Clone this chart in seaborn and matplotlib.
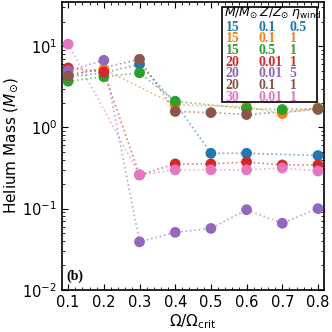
import matplotlib
matplotlib.use("Agg")
import matplotlib.pyplot as plt
import matplotlib.patches as mpatches
from matplotlib.ticker import MultipleLocator
import numpy as np
import pandas as pd
import seaborn as sns

# Omega / Omega_crit grid
omega = [0.1, 0.2, 0.3, 0.4, 0.5, 0.6, 0.7, 0.8]

# helium mass per model (None = no model at that rotation)
he_15_01_05 = [4.2, 4.7, 6.0, 2.0, 0.48, 0.48, None, 0.45]
he_15_01_1 = [4.5, 5.2, None, 1.9, None, 1.8, 1.48, 1.75]
he_15_05_1 = [3.7, 4.2, 4.7, 2.1, None, 1.7, 1.66, 1.7]
he_20_001_1 = [5.4, 4.8, 0.26, 0.355, 0.355, 0.375, 0.345, 0.345]
he_20_001_5 = [5.0, 6.7, 0.039, 0.051, 0.057, 0.097, 0.066, 0.10]
he_20_01_1 = [4.3, None, 6.9, 1.57, 1.52, 1.44, None, 1.66]
he_30_001_1 = [10.6, None, 0.26, 0.30, 0.30, 0.30, 0.316, 0.29]

mass_labels = ["15", "15", "15", "20", "20", "20", "30"]
z_labels = ["0.1", "0.1", "0.5", "0.01", "0.01", "0.1", "0.01"]
eta_labels = ["0.5", "1", "1", "1", "5", "1", "1"]

series = [he_15_01_05, he_15_01_1, he_15_05_1, he_20_001_1,
          he_20_001_5, he_20_01_1, he_30_001_1]

rows = []
for i, vals in enumerate(series):
    for om, v in zip(omega, vals):
        if v is not None:
            rows.append({"model": i, "omega": om, "mhe": v})
df = pd.DataFrame(rows)

colors = sns.color_palette("tab10", 7)

fig = plt.figure(figsize=(3.32, 3.32), dpi=100)
ax = fig.add_axes([0.187, 0.127, 0.789, 0.867])

sns.lineplot(data=df, x="omega", y="mhe", hue="model", palette=colors,
             linestyle=":", linewidth=1.2, alpha=0.6, legend=False, ax=ax,
             estimator=None, sort=True)
sns.scatterplot(data=df, x="omega", y="mhe", hue="model", palette=colors,
                s=60, linewidth=0, legend=False, ax=ax, zorder=3)

ax.set_yscale("log")
ax.set_xlim(0.083, 0.817)
ax.set_ylim(0.01, 35)
ax.xaxis.set_major_locator(MultipleLocator(0.1))
ax.xaxis.set_minor_locator(MultipleLocator(0.02))
ax.tick_params(which="both", direction="in", top=True, right=True,
               labelsize=10.5)
ax.tick_params(which="major", length=4)
ax.tick_params(which="minor", length=2)
for sp in ax.spines.values():
    sp.set_linewidth(1.2)

ax.set_xlabel(r"$\Omega/\Omega_{\rm crit}$", fontsize=11, labelpad=2)
ax.set_ylabel(r"Helium Mass ($M_{\odot}$)", fontsize=11, labelpad=2)

# table-style legend
box = mpatches.Rectangle((0.611, 0.652), 0.362, 0.331, transform=ax.transAxes,
                         facecolor="white", edgecolor="black", linewidth=1.2,
                         zorder=4)
ax.add_patch(box)
cols_x = [0.624, 0.75, 0.868]
ax.text(0.618, 0.963, r"$M/M_{\odot}\,Z/Z_{\odot}\;\eta_{\rm wind}$",
        transform=ax.transAxes, fontsize=9, va="center", zorder=5)
for i in range(7):
    y = 0.912 - i * 0.0405
    for cx, txt in zip(cols_x, [mass_labels[i], z_labels[i], eta_labels[i]]):
        ax.text(cx, y, txt, transform=ax.transAxes, color=colors[i],
                fontsize=10, fontweight="bold", family="Liberation Serif",
                va="center", zorder=5)

ax.text(0.015, 0.025, "(b)", transform=ax.transAxes, fontsize=10,
        fontweight="bold", family="Liberation Serif", va="bottom")

fig.savefig("out.png", dpi=100)
